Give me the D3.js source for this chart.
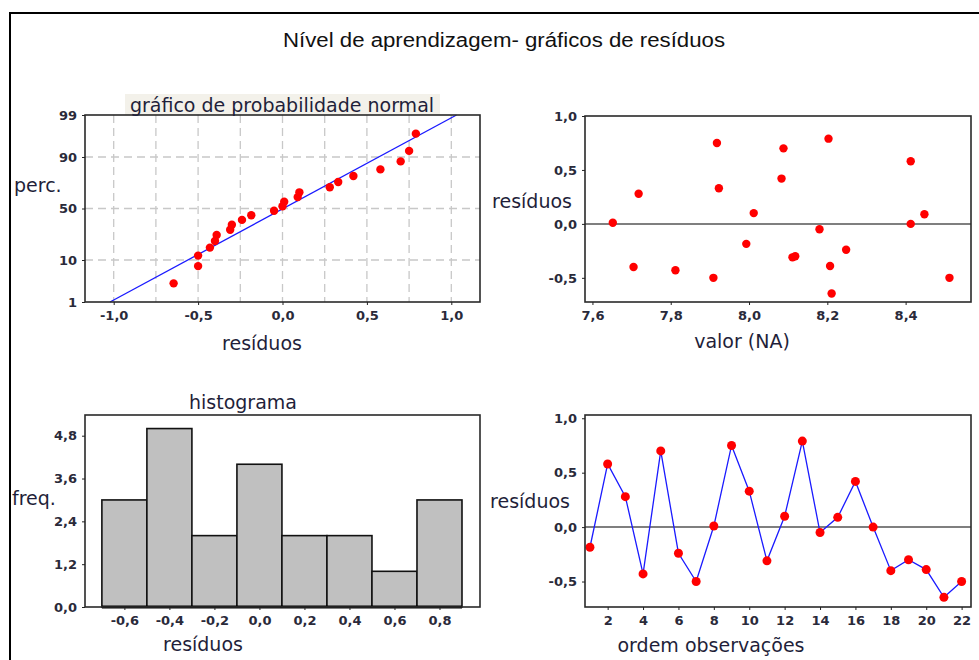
<!DOCTYPE html>
<html>
<head>
<meta charset="utf-8">
<script src="https://cdn.jsdelivr.net/npm/d3@7"></script>
<style>
  body { margin: 0; background: #fff; }
  svg { display: block; }
  .tick text { font-family: "DejaVu Sans", Verdana, sans-serif; font-size: 13px; font-weight: bold; fill: #2a2a3a; }
  .lbl { font-family: "DejaVu Sans", Verdana, sans-serif; font-size: 19px; fill: #1f1f3a; }
</style>
</head>
<body>
<div id="chart"></div>
<script>
const residuals = [-0.185, 0.58, 0.28, -0.43, 0.70, -0.24, -0.50, 0.01, 0.75, 0.33, -0.31,
                   0.10, 0.79, -0.05, 0.09, 0.42, 0.00, -0.40, -0.30, -0.39, -0.645, -0.50];
// fitted values (NA), same order
const fitted = [7.993, 8.413, 7.718, 7.812, 8.088, 8.248, 7.909, 7.652, 7.918, 7.923, 8.111,
                8.012, 8.203, 8.180, 8.448, 8.083, 8.413, 7.705, 8.118, 8.207, 8.211, 8.512];
// histogram bins
const histMids = [-0.6, -0.4, -0.2, 0.0, 0.2, 0.4, 0.6, 0.8];
const histCounts = [3, 5, 2, 4, 2, 2, 1, 3];
const histWidth = 0.2;
// tick labels
const probTicks = [1, 10, 50, 90, 99];
const nppXTicks = [-1.0, -0.5, 0.0, 0.5, 1.0];
const nppXGrid = [-1.0, -0.75, -0.5, -0.25, 0.0, 0.25, 0.5, 0.75, 1.0];
const resTicks = [-0.5, 0.0, 0.5, 1.0];
const fitTicks = [7.6, 7.8, 8.0, 8.2, 8.4];
const freqTicks = [0.0, 1.2, 2.4, 3.6, 4.8];
const orderTicks = [2, 4, 6, 8, 10, 12, 14, 16, 18, 20, 22];

const width = 979, height = 660;
const svg = d3.select('#chart').append('svg')
    .attr('width', width).attr('height', height);

// inverse normal cdf (Acklam)
function qnorm(p) {
    const a = [-3.969683028665376e+01, 2.209460984245205e+02, -2.759285104469687e+02,
               1.383577518672690e+02, -3.066479806614716e+01, 2.506628277459239e+00];
    const b = [-5.447609879822406e+01, 1.615858368580409e+02, -1.556989798598866e+02,
               6.680131188771972e+01, -1.328068155288572e+01];
    const c = [-7.784894002430293e-03, -3.223964580411365e-01, -2.400758277161838e+00,
               -2.549732539343734e+00, 4.374664141464968e+00, 2.938163982698783e+00];
    const d = [7.784695709041462e-03, 3.224671290700398e-01, 2.445134137142996e+00,
               3.754408661907416e+00];
    const pl = 0.02425;
    let q, r;
    if (p < pl) {
        q = Math.sqrt(-2 * Math.log(p));
        return (((((c[0]*q+c[1])*q+c[2])*q+c[3])*q+c[4])*q+c[5]) / ((((d[0]*q+d[1])*q+d[2])*q+d[3])*q+1);
    }
    if (p > 1 - pl) {
        q = Math.sqrt(-2 * Math.log(1 - p));
        return -(((((c[0]*q+c[1])*q+c[2])*q+c[3])*q+c[4])*q+c[5]) / ((((d[0]*q+d[1])*q+d[2])*q+d[3])*q+1);
    }
    q = p - 0.5; r = q * q;
    return (((((a[0]*r+a[1])*r+a[2])*r+a[3])*r+a[4])*r+a[5])*q / (((((b[0]*r+b[1])*r+b[2])*r+b[3])*r+b[4])*r+1);
}

const fmt1 = v => {
    const s = Math.abs(v) < 1e-9 ? '0.0' : v.toFixed(1);
    return s.replace('.', ',');
};

// outer frame
svg.append('rect')
    .attr('x', 10).attr('y', 13).attr('width', 990).attr('height', 680)
    .attr('fill', 'none').attr('stroke', '#000').attr('stroke-width', 2);

svg.append('text')
    .attr('x', 504).attr('y', 47)
    .attr('text-anchor', 'middle')
    .attr('textLength', 442).attr('lengthAdjust', 'spacingAndGlyphs')
    .style('font-family', '"Liberation Sans Narrow", "Liberation Sans", Arial, sans-serif')
    .style('font-size', '20px').style('fill', '#111')
    .text('Nível de aprendizagem- gráficos de resíduos');

function axes(g, box, x, y, xt, yt, xf, yf) {
    g.append('g')
        .attr('transform', `translate(${box.x0},0)`)
        .call(d3.axisLeft(y).tickValues(yt).tickFormat(yf).tickSize(3).tickPadding(5))
        .call(a => a.select('.domain').remove())
        .call(a => a.selectAll('line').attr('stroke', '#222'));
    g.append('g')
        .attr('transform', `translate(0,${box.y1})`)
        .call(d3.axisBottom(x).tickValues(xt).tickFormat(xf).tickSize(3).tickPadding(6))
        .call(a => a.select('.domain').remove())
        .call(a => a.selectAll('line').attr('stroke', '#222'));
}

function frame(g, box) {
    g.append('rect')
        .attr('x', box.x0).attr('y', box.y0)
        .attr('width', box.x1 - box.x0).attr('height', box.y1 - box.y0)
        .attr('fill', 'none').attr('stroke', '#2a2a2a').attr('stroke-width', 1.6);
}

function label(x, y, txt, anchor) {
    svg.append('text').attr('class', 'lbl')
        .attr('x', x).attr('y', y)
        .attr('text-anchor', anchor || 'middle')
        .text(txt);
}

// ---------- normal probability plot ----------
const b1 = {x0: 85, x1: 480, y0: 115, y1: 302};
const g1 = svg.append('g');
const x1 = d3.scaleLinear().domain([-1.17, 1.17]).range([b1.x0, b1.x1]);
const y1 = d3.scaleLinear().domain([qnorm(0.01), qnorm(0.99)]).range([b1.y1, b1.y0]);

g1.append('rect').attr('x', 125).attr('y', 94).attr('width', 315).attr('height', 21)
    .attr('fill', '#f3f1ea');

g1.selectAll('line.vg').data(nppXGrid).join('line')
    .attr('x1', d => x1(d)).attr('x2', d => x1(d))
    .attr('y1', b1.y0).attr('y2', b1.y1)
    .attr('stroke', '#c8c8c8').attr('stroke-width', 1.3).attr('stroke-dasharray', '8,5');
g1.selectAll('line.hg').data(probTicks.slice(1, -1)).join('line')
    .attr('x1', b1.x0).attr('x2', b1.x1)
    .attr('y1', d => y1(qnorm(d / 100))).attr('y2', d => y1(qnorm(d / 100)))
    .attr('stroke', '#c8c8c8').attr('stroke-width', 1.3).attr('stroke-dasharray', '8,5');

const n = residuals.length;
const mean = d3.mean(residuals), sd = d3.deviation(residuals);
const zLo = qnorm(0.01), zHi = qnorm(0.99);
g1.append('line')
    .attr('x1', x1(mean + sd * zLo)).attr('y1', y1(zLo))
    .attr('x2', x1(mean + sd * zHi)).attr('y2', y1(zHi))
    .attr('stroke', '#1a1aff').attr('stroke-width', 1.3);

const sorted = residuals.slice().sort(d3.ascending);
g1.selectAll('circle').data(sorted).join('circle')
    .attr('cx', d => x1(d))
    .attr('cy', (d, i) => y1(qnorm((i + 1 - 0.3) / (n + 0.4))))
    .attr('r', 4.2).attr('fill', '#ff0000');

frame(g1, b1);
axes(g1, b1, x1, y1, nppXTicks, probTicks.map(p => qnorm(p / 100)), fmt1,
     (d, i) => probTicks[i]);
label(282, 112, 'gráfico de probabilidade normal');
label(262, 350, 'resíduos');
label(14, 192, 'perc.', 'start');

// ---------- residuals vs fitted ----------
const b2 = {x0: 585, x1: 971, y0: 116, y1: 302};
const g2 = svg.append('g');
const x2 = d3.scaleLinear().domain([7.581, 8.567]).range([b2.x0, b2.x1]);
const y2 = d3.scaleLinear().domain([-0.724, 1.0]).range([b2.y1, b2.y0]);
g2.append('line')
    .attr('x1', b2.x0).attr('x2', b2.x1).attr('y1', y2(0)).attr('y2', y2(0))
    .attr('stroke', '#555').attr('stroke-width', 1.5);
g2.selectAll('circle').data(residuals).join('circle')
    .attr('cx', (d, i) => x2(fitted[i]))
    .attr('cy', d => y2(d))
    .attr('r', 4.2).attr('fill', '#ff0000');
frame(g2, b2);
axes(g2, b2, x2, y2, fitTicks, resTicks, fmt1, fmt1);
label(572, 208, 'resíduos', 'end');
label(742, 348, 'valor (NA)');

// ---------- histogram ----------
const b3 = {x0: 85, x1: 480, y0: 415, y1: 607};
const g3 = svg.append('g');
const x3 = d3.scaleLinear().domain([-0.775, 0.98]).range([b3.x0, b3.x1]);
const y3 = d3.scaleLinear().domain([0, 5.38]).range([b3.y1, b3.y0]);
g3.selectAll('rect.bar').data(histMids).join('rect')
    .attr('class', 'bar')
    .attr('x', d => x3(d - histWidth / 2))
    .attr('width', d => x3(d + histWidth / 2) - x3(d - histWidth / 2))
    .attr('y', (d, i) => y3(histCounts[i]))
    .attr('height', (d, i) => y3(0) - y3(histCounts[i]))
    .attr('fill', '#c0c0c0').attr('stroke', '#111').attr('stroke-width', 1.6);
g3.append('line')
    .attr('x1', x3(histMids[0] - histWidth / 2)).attr('x2', x3(histMids[histMids.length - 1] + histWidth / 2))
    .attr('y1', y3(0)).attr('y2', y3(0))
    .attr('stroke', '#000').attr('stroke-width', 3);
frame(g3, b3);
axes(g3, b3, x3, y3, histMids, freqTicks, fmt1, fmt1);
label(243, 409, 'histograma');
label(203, 651, 'resíduos');
label(12, 505, 'freq.', 'start');

// ---------- residuals vs order ----------
const b4 = {x0: 585, x1: 971, y0: 415, y1: 607};
const g4 = svg.append('g');
const x4 = d3.scaleLinear().domain([0.72, 22.53]).range([b4.x0, b4.x1]);
const y4 = d3.scaleLinear().domain([-0.734, 1.03]).range([b4.y1, b4.y0]);
g4.append('line')
    .attr('x1', b4.x0).attr('x2', b4.x1).attr('y1', y4(0)).attr('y2', y4(0))
    .attr('stroke', '#555').attr('stroke-width', 1.5);
g4.append('path')
    .datum(residuals)
    .attr('d', d3.line().x((d, i) => x4(i + 1)).y(d => y4(d)))
    .attr('fill', 'none').attr('stroke', '#1a1aff').attr('stroke-width', 1.3);
g4.selectAll('circle').data(residuals).join('circle')
    .attr('cx', (d, i) => x4(i + 1))
    .attr('cy', d => y4(d))
    .attr('r', 4.5).attr('fill', '#ff0000');
frame(g4, b4);
axes(g4, b4, x4, y4, orderTicks, resTicks, d => d, fmt1);
label(570, 508, 'resíduos', 'end');
label(711, 652, 'ordem observações');
</script>
</body>
</html>
